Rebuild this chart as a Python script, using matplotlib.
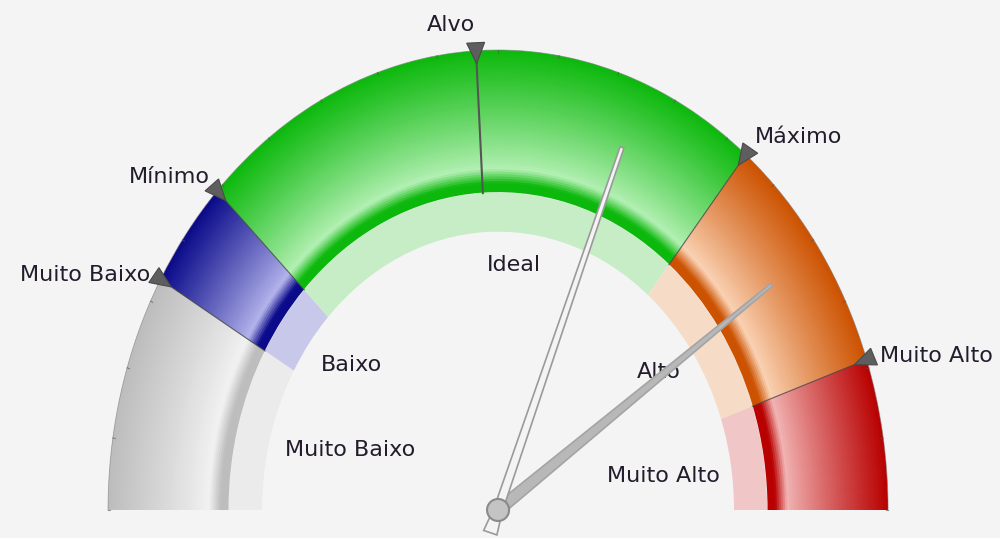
import numpy as np
import matplotlib.pyplot as plt
from matplotlib.patches import Wedge, Polygon, Ellipse
from matplotlib.colors import to_rgb

# gauge scale 0..100 spread over a half circle (0 = left, 100 = right)
band_names = ["Muito Baixo", "Baixo", "Ideal", "Alto", "Muito Alto"]
band_limits = [0, 16.7, 24.4, 71.9, 89.4, 100]
band_dark = ["#bdbdbd", "#0a0a8a", "#0cb80c", "#cc5200", "#b80000"]
band_light = ["#f2f2f2", "#b4b4ec", "#b4f0b4", "#fad2b4", "#f2b4b4"]
band_pale = ["#ebebeb", "#c8c8ea", "#c6edc6", "#f6dcc6", "#f0c6c6"]

marker_names = ["Muito Baixo", "Mínimo", "Alvo", "Máximo", "Muito Alto"]
marker_values = [16.7, 24.4, 48.2, 71.9, 89.4]
target_value = 48.2

needle_values = [62.2, 80.6]

# layout
R_OUT, R_IN, R_PALE = 1.0, 0.69, 0.605
marker_offsets = [(-10, 5), (-7, 14), (-25, 26), (9, 18), (13, 4)]
marker_ha = ["right", "right", "center", "left", "left"]
band_label_pos = [(161, 0.40), (140, 0.49), (85.6, 0.534), (35.9, 0.51), (10, 0.43)]
TXT = "#231c2c"
BG = "#f4f4f4"


def ang(v):
    return 180.0 - v * 1.8


def shade(dark, light, t):
    # t: 0 at inner edge, 1 at outer edge
    if t < 0.07:
        f = 0.0
    elif t < 0.17:
        f = (t - 0.07) / 0.10
    else:
        f = 1 - ((t - 0.17) / 0.83) ** 0.9
    d, l = np.array(to_rgb(dark)), np.array(to_rgb(light))
    return d * (1 - f) + l * f


fig = plt.figure(figsize=(10, 5.38), dpi=100, facecolor=BG)
ax = fig.add_axes([0, 0, 1, 1])
ax.set_facecolor(BG)
ax.set_xlim(-1.277, 1.287)
ax.set_ylim(-0.0609, 1.1087)
ax.axis("off")
SX = 1000 / (1.287 + 1.277)
SY = 538 / (1.1087 + 0.0609)

n = 60
dr = (R_OUT - R_IN) / n
for k in range(len(band_names)):
    th1 = ang(band_limits[k + 1])
    th2 = ang(band_limits[k])
    ax.add_patch(Wedge((0, 0), R_IN, th1, th2, width=R_IN - R_PALE,
                       facecolor=band_pale[k], edgecolor="none"))
    for i in range(n):
        r1 = R_IN + dr * (i + 1)
        c = shade(band_dark[k], band_light[k], (i + 0.5) / n)
        w = dr * 1.4 if i > 0 else dr
        ax.add_patch(Wedge((0, 0), min(r1 + dr * 0.2, R_OUT), th1, th2,
                           width=w, facecolor=c, edgecolor="none"))

# outer outline and small ticks
tt = np.radians(np.linspace(0, 180, 300))
ax.plot(R_OUT * np.cos(tt), R_OUT * np.sin(tt), color="#777777", lw=0.6, alpha=0.6)
for v in range(0, 101, 5):
    a = np.radians(ang(v))
    ax.plot([R_OUT * np.cos(a), (R_OUT - 0.006) * np.cos(a)],
            [R_OUT * np.sin(a), (R_OUT - 0.006) * np.sin(a)], color="#555555",
            lw=0.8, alpha=0.6)

# segment boundaries
for v in band_limits[1:-1]:
    a = np.radians(ang(v))
    ax.plot([R_IN * np.cos(a), R_OUT * np.cos(a)],
            [R_IN * np.sin(a), R_OUT * np.sin(a)], color="#444444", lw=0.8, alpha=0.8)

# target line
a = np.radians(ang(target_value))
ax.plot([R_IN * np.cos(a), R_OUT * np.cos(a)],
        [R_IN * np.sin(a), R_OUT * np.sin(a)], color="#555555", lw=1.5)

# markers and their labels
for name, v, off, ha in zip(marker_names, marker_values, marker_offsets, marker_ha):
    a = np.radians(ang(v))
    P = np.array([SX * R_OUT * np.cos(a), SY * R_OUT * np.sin(a)])
    d = -P / np.linalg.norm(P)
    nrm = np.array([-d[1], d[0]])
    tip = P + d * 13
    base = P - d * 8
    pts = np.array([tip, base + nrm * 9, base - nrm * 9]) / [SX, SY]
    ax.add_patch(Polygon(pts, closed=True, facecolor="#5e5e5e", edgecolor="#4a4a4a", lw=0.8, zorder=5))
    ax.annotate(name, (R_OUT * np.cos(a), R_OUT * np.sin(a)), xytext=off,
                textcoords="offset pixels", ha=ha, va="center",
                fontsize=16, color=TXT, zorder=6)

# band labels
for name, (deg, r) in zip(band_names, band_label_pos):
    a = np.radians(deg)
    ax.text(r * np.cos(a), r * np.sin(a), name, ha="center", va="center",
            fontsize=16, color=TXT, zorder=4)


def needle(v, length, w_tail, w_base, w_tip, tail, fc, ec):
    a = np.radians(ang(v))
    T = np.array([SX * length * np.cos(a), SY * length * np.sin(a)])
    d = T / np.linalg.norm(T)
    nrm = np.array([-d[1], d[0]])
    B = -d * tail
    pts = np.array([B + nrm * w_tail / 2, nrm * w_base / 2, T + nrm * w_tip / 2,
                    T - nrm * w_tip / 2, -nrm * w_base / 2, B - nrm * w_tail / 2])
    ax.add_patch(Polygon(pts / [SX, SY], closed=True, facecolor=fc,
                         edgecolor=ec, lw=1.2, zorder=7))


needle(needle_values[1], 0.855, 8, 12, 3, 0, "#b8b8b8", "#a4a4a4")
needle(needle_values[0], 0.85, 14, 9, 4, 24, "#f4f4f4", "#9a9a9a")

ax.add_patch(Ellipse((0, 0), 2 * 11 / SX, 2 * 11 / SY, facecolor="#c4c4c4",
                     edgecolor="#8a8a8a", lw=1.5, zorder=8))

fig.savefig("out.png", dpi=100, facecolor=BG)
